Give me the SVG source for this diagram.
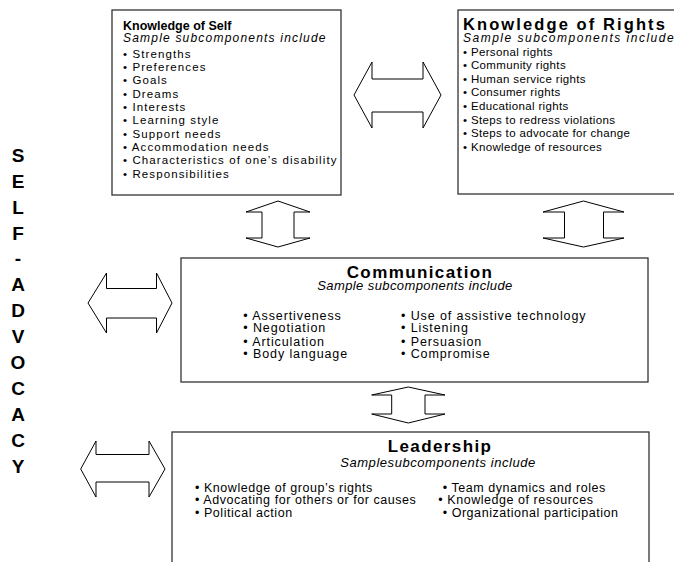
<svg xmlns="http://www.w3.org/2000/svg" width="674" height="562" viewBox="0 0 674 562">
<style>
text{font-family:"Liberation Sans",Arial,Helvetica,sans-serif;fill:#000}
.box{fill:#fff;stroke:#333;stroke-width:1.3}
.arrow{fill:#fff;stroke:#000;stroke-width:1}
.t1{font-size:12.5px;font-weight:bold}
.t2{font-size:16.5px;font-weight:bold;letter-spacing:2.1px}
.t3{font-size:17px;font-weight:bold;letter-spacing:1.4px;text-anchor:middle}
.sub{font-size:12px;font-style:italic;letter-spacing:1.2px}
.sub2{font-size:13px;font-style:italic;text-anchor:middle}
.is{font-size:11.5px;letter-spacing:1.1px}
.ir{font-size:11.5px;letter-spacing:0.35px}
.ic{font-size:12.5px;letter-spacing:0.9px}
.il{font-size:12.5px;letter-spacing:0.55px}
.sa{font-size:19px;font-weight:bold;text-anchor:middle}
</style>
<rect width="674" height="562" fill="#fff"/>
<g id="connectors">
<polygon class="arrow" points="354,95 372,62 372,79 423,79 423,62 441,95 423,128 423,112 372,112 372,128"/>
<polygon class="arrow" points="278,201 310,212 294,212 294,238 310,238 278,247 246,238 262,238 262,212 246,212"/>
<polygon class="arrow" points="583.5,201 624,212 603.5,212 603.5,238 624,238 583.5,247 543,238 564.5,238 564.5,212 543,212"/>
<polygon class="arrow" points="408.3,387 445,395 425,395 425,414 445,414 408.3,423 371.7,414 391.7,414 391.7,395 371.7,395"/>
<polygon class="arrow" points="88,303 106.5,273 106.5,288.5 156.5,288.5 156.5,273 172,303 156.5,333 156.5,318 106.5,318 106.5,333"/>
<polygon class="arrow" points="80.7,469 96,441 96,454.5 149,454.5 149,441 165,469 149,497 149,482 96,482 96,497"/>
</g>
<g id="node-self">
<rect class="box" x="112" y="10" width="229" height="185"/>
<text class="t1" x="123" y="29.5">Knowledge of Self</text>
<text class="sub" x="123" y="41.5">Sample subcomponents include</text>
<text class="is" x="123" y="57.5">• Strengths</text>
<text class="is" x="123" y="70.8">• Preferences</text>
<text class="is" x="123" y="84.2">• Goals</text>
<text class="is" x="123" y="97.5">• Dreams</text>
<text class="is" x="123" y="110.8">• Interests</text>
<text class="is" x="123" y="124.2">• Learning style</text>
<text class="is" x="123" y="137.5">• Support needs</text>
<text class="is" x="123" y="150.8">• Accommodation needs</text>
<text class="is" x="123" y="164.2">• Characteristics of one’s disability</text>
<text class="is" x="123" y="177.5">• Responsibilities</text>
</g>
<g id="node-rights">
<rect class="box" x="458" y="10" width="222" height="184"/>
<text class="t2" x="463" y="29.5">Knowledge of Rights</text>
<text class="sub" x="463" y="41.5" style="letter-spacing:1.5px">Sample subcomponents include</text>
<text class="ir" x="463" y="55.5">• Personal rights</text>
<text class="ir" x="463" y="69">• Community rights</text>
<text class="ir" x="463" y="82.5">• Human service rights</text>
<text class="ir" x="463" y="96">• Consumer rights</text>
<text class="ir" x="463" y="110">• Educational rights</text>
<text class="ir" x="463" y="123.5">• Steps to redress violations</text>
<text class="ir" x="463" y="137">• Steps to advocate for change</text>
<text class="ir" x="463" y="150.5">• Knowledge of resources</text>
</g>
<g id="node-communication">
<rect class="box" x="181" y="258" width="467" height="124"/>
<text class="t3" x="420" y="277.5">Communication</text>
<text class="sub2" x="415" y="290" style="letter-spacing:0.4px">Sample subcomponents include</text>
<text class="ic" x="243.3" y="319.5">• Assertiveness</text>
<text class="ic" x="243.3" y="331.5">• Negotiation</text>
<text class="ic" x="243.3" y="345.5">• Articulation</text>
<text class="ic" x="243.3" y="357.5">• Body language</text>
<text class="ic" x="401" y="319.5">• Use of assistive technology</text>
<text class="ic" x="401" y="331.5">• Listening</text>
<text class="ic" x="401" y="345.5">• Persuasion</text>
<text class="ic" x="401" y="357.5">• Compromise</text>
</g>
<g id="node-leadership">
<rect class="box" x="172" y="432" width="477" height="140"/>
<text class="t3" x="440" y="452">Leadership</text>
<text class="sub2" x="438" y="467" style="letter-spacing:0.55px">Samplesubcomponents include</text>
<text class="il" x="195" y="491.7">• Knowledge of group’s rights</text>
<text class="il" x="195" y="504">• Advocating for others or for causes</text>
<text class="il" x="195" y="516.7">• Political action</text>
<text class="il" x="442.7" y="491.7">• Team dynamics and roles</text>
<text class="il" x="438.3" y="504">• Knowledge of resources</text>
<text class="il" x="442.7" y="516.7">• Organizational participation</text>
</g>
<g id="label-self-advocacy">
<text class="sa" x="18" y="161.6">S</text>
<text class="sa" x="18" y="187.6">E</text>
<text class="sa" x="18" y="213.5">L</text>
<text class="sa" x="18" y="239.5">F</text>
<text class="sa" x="18" y="265.4">-</text>
<text class="sa" x="18" y="291.4">A</text>
<text class="sa" x="18" y="317.3">D</text>
<text class="sa" x="18" y="343.3">V</text>
<text class="sa" x="18" y="369.2">O</text>
<text class="sa" x="18" y="395.2">C</text>
<text class="sa" x="18" y="421.1">A</text>
<text class="sa" x="18" y="447.1">C</text>
<text class="sa" x="18" y="473">Y</text>
</g>
</svg>
